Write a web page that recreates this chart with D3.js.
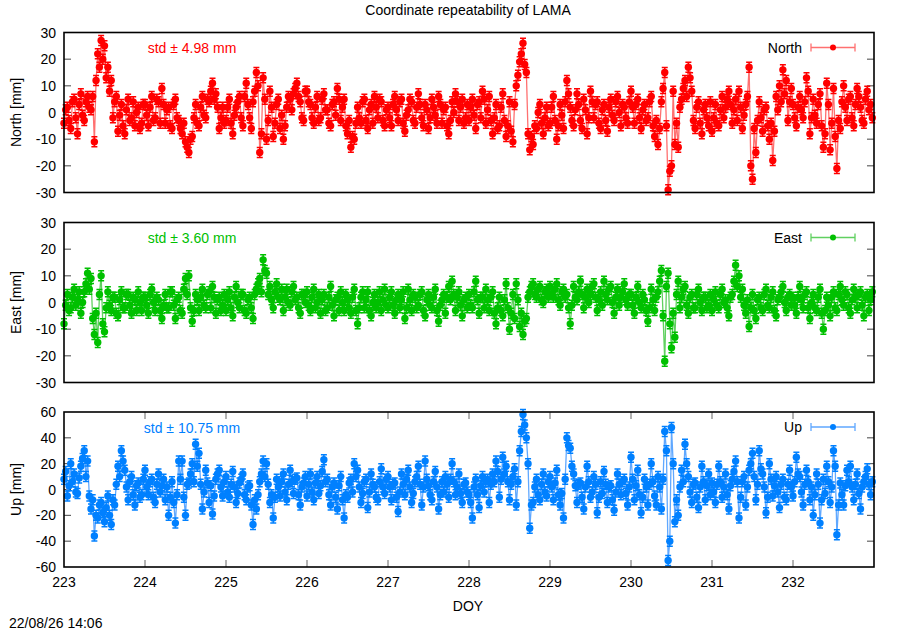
<!DOCTYPE html>
<html lang="en">
<head>
    <meta charset="UTF-8">
    <script src="https://d3js.org/d3.v7.min.js"></script>
    <title>Coordinate repeatability of LAMA</title>
    <style>
        body { margin: 0; background: #fff; }
        text { font-family: "Liberation Sans", Arial, sans-serif; }
    </style>
</head>
<body>
    <div id="chart"></div>

    <script type="text/javascript">
        // 30-min solutions [mm], DOY 223.00 .. 232.98 (one row per day)
        const north = [].concat(
            [-4, 1, 2, -3, -6, 4, 5, -2, -8, 3, 7, -1, -3, 4, 6, 2, 1, 6, -11, 12, 22, 17, 27, 20, 25, 13, 17, 8, 12, -2, 4, 6, -7, -1, 3, -5, -8, 1, 5, -3, -2, 4, -5, 0, 2, -6, -4, 3],
            [3, -1, -5, 2, 6, -3, -2, 5, 4, -4, 9, 3, -4, 1, 2, -5, -6, 3, 5, -2, -3, -6, -8, -4, -11, -13, -15, -10, -9, -2, 3, -4, -5, 2, 6, -1, -2, 5, 4, 8, 11, 5, 7, 2, -6, -2, 2, -4],
            [-3, 2, 5, -4, -8, -1, 2, 4, 6, -2, -5, 6, 11, 3, -2, -6, 4, 8, 15, 10, -15, -8, 13, 5, -10, -3, 8, 2, -9, -4, 3, 5, -6, -1, -10, -5, 2, 6, 5, 1, 7, 9, 11, 6, 4, -2, -3, 8],
            [8, 4, 3, -2, -4, 2, 6, -3, -2, 5, 7, 1, 1, -4, -5, 3, 4, -1, 9, 5, -3, 2, 5, -5, -8, -3, -13, -9, -10, -4, 2, -2, -4, 4, 5, -3, -6, 1, 3, -4, 6, 2, -2, 5, 4, -3, -5, 1],
            [2, -2, -5, 3, 6, 1, -3, 4, 5, -4, -7, -1, 1, 5, 4, -3, -4, 2, 7, 3, -2, -5, 3, 1, -6, -2, 5, 2, -1, -4, 6, 3, -4, 1, 2, -5, -8, -3, 4, 0, 7, 4, -3, 2, 5, -4, -2, 3],
            [-3, 2, 5, -1, -6, 3, 4, -2, 8, 5, -4, 1, 6, -3, -8, -2, 3, -6, -5, 2, 7, -3, -9, -5, 4, -7, -11, 3, 10, 14, 19, 22, 26, 18, 15, -8, -14, -9, -12, -5, -6, 0, 3, -4, -8, -2, 2, -5],
            [-4, 2, 6, -3, -10, -5, 3, -1, -6, 4, 12, 7, 2, -3, -5, 1, 7, 3, -3, -6, 5, 1, -8, -2, 8, 4, -2, 3, 4, -4, -6, 1, 3, -3, -7, 2, 5, -1, -3, 4, 6, 0, -5, 3, 2, -2, -4, 4],
            [8, 2, -4, 3, 5, -2, -6, 1, 3, -3, -2, 4, 6, -5, -9, -3, -12, -6, 4, 9, 15, -5, -29, -22, -20, 8, -12, -4, -13, 2, 5, 9, 12, 6, 17, 13, 8, -3, -6, 2, 4, -4, -8, 1, 3, -2, -5, 4],
            [-7, -2, 3, -4, -5, 1, 6, -2, 2, 5, 8, 3, -4, 1, 5, -3, 8, 2, -6, -1, 3, 6, 17, -20, -25, -6, -15, -3, 4, -2, -7, 1, 2, -5, -10, -4, -18, -7, 6, 1, 10, 4, 16, 7, 12, -3, 4, 9],
            [3, -2, -5, 2, 6, 1, -2, 4, 13, 8, -8, -2, 5, -1, -4, 3, 7, -5, -13, -8, 11, 3, -14, -4, 9, -9, -21, -3, -6, 4, 10, 2, -3, 5, 6, -2, -5, 3, 9, 6, 2, -3, -4, 5, 8, 1, 3, -2]
        );
        const east = [].concat(
            [-8, -1, 3, -3, -2, 2, 5, -1, 1, 4, -4, 0, 4, 7, 11, 5, 9, -6, -12, -4, -15, 3, 10, -8, -11, -2, 4, -1, -3, 2, 2, -4, -5, 1, 4, -2, -2, 3, 3, -1, -4, 2, 1, -3, 4, 0, -3, 2],
            [2, -1, -4, 3, 5, 0, -3, 2, 1, -3, -6, -1, 3, -2, -2, 4, 4, -1, -6, 1, 2, -3, -4, 5, 9, 3, 10, -2, -7, -3, 3, 1, -3, 2, 5, -1, -2, 3, 4, -2, 6, 2, -4, 1, 2, -3, -1, 3],
            [-3, 1, 4, -2, -5, 2, 6, 0, -2, 3, 3, -3, -4, 1, 2, -2, -6, 3, 5, 7, 9, 4, 16, 12, 11, 3, 6, 1, -2, 4, 7, 2, 1, 5, -3, 2, 5, 0, -1, 4, 6, 1, 2, -2, -4, 3, 3, 0],
            [4, -1, -3, 2, 5, -2, 0, 3, -4, 1, 3, -3, -2, 2, 6, -1, -5, 1, 2, -3, 4, 0, -3, 3, 1, -2, -4, 2, 5, -3, -8, -2, 2, 4, -2, 1, 4, -3, -5, 0, 3, -2, 0, 4, -3, 1, 5, -1],
            [-2, 2, 4, -1, -4, 1, 3, -2, 1, 4, -6, -2, 5, 1, -3, 3, 2, -2, -1, 3, 4, -3, -5, 1, 3, -1, -2, 2, 5, -3, -7, -1, 1, 3, -4, 2, 6, 1, 8, 3, -3, 2, 4, -1, -5, 1, 2, -2],
            [3, -1, -2, 4, 8, 1, -4, 2, 2, -2, 5, 1, -3, 2, 4, -4, -8, -2, 2, -3, -5, 1, 7, -2, -10, -4, 3, -6, 7, 1, -9, -4, -12, -7, -6, 2, 4, 6, 7, 3, 2, 5, 6, 1, 0, 4, 5, 2],
            [6, 3, 2, 5, 7, 1, -1, 4, 5, 2, 3, -2, -8, -1, 6, 2, 1, 4, 8, 3, -2, 2, 5, 0, 3, 6, 7, 2, -3, 1, 4, -1, 8, 3, 1, 5, 6, 0, -4, 2, 5, -1, 2, 4, 7, 1, -1, 3],
            [3, -1, -4, 2, 6, 0, -2, 3, 1, -3, -7, -2, 5, 1, -3, 2, 4, 8, 12, -5, -22, 6, 11, -8, -17, -4, -13, 3, 8, -2, 2, 5, 6, -1, -4, 2, 3, -2, -2, 3, 5, 0, -3, 2, 2, -2, -1, 3],
            [-3, 1, 4, -1, -2, 3, 5, 0, 1, -2, -5, 2, 3, 8, 14, 6, 10, 2, 5, -1, -4, 1, -9, -2, 3, -3, -6, 1, 2, -2, -3, 3, 5, -1, -2, 2, 4, -3, -5, 1, 2, 4, 6, 0, -3, 2, 3, -1],
            [2, -1, -4, 2, 6, 1, -2, 3, 4, -2, -6, 0, 3, -2, -3, 2, 5, -4, -10, -3, 2, -1, -5, 2, 4, -2, -3, 3, 6, 1, -1, 4, 3, -2, -4, 1, 5, 2, -2, 3, 4, -1, -5, 2, 3, -3, 1, 4]
        );
        const up = [].concat(
            [8, 14, -5, 3, 20, 6, 12, -2, -3, 9, 18, 24, 30, 10, 22, -5, -15, -8, -36, -20, -22, -12, -10, -18, -25, -14, -5, -20, -27, -8, -12, 4, 18, 10, 30, 22, 15, 2, -8, 6, 10, -4, -12, 3, 5, -6, -4, 8],
            [15, 2, -4, 6, 8, -6, -10, 4, 12, -2, 3, 8, -8, 2, -20, -6, 6, -10, -26, -4, 22, 8, 22, -6, -20, 4, 5, 12, 20, 6, 35, 18, 28, 4, -15, -2, 15, 5, -10, 3, -19, -5, 8, 12, 15, 2, -5, 6],
            [10, -2, -6, 4, 14, 2, -10, -3, 5, 8, 12, -4, -8, 2, 3, -12, -27, -8, -15, -4, 6, 12, 22, 10, 20, 4, -10, -4, -22, -6, 8, 2, -5, 6, 12, -2, -8, 4, 15, 6, -3, 8, 9, -4, -12, 2, 5, 10],
            [-5, 4, 12, -2, -8, 5, 10, -3, 3, 14, 23, 6, 8, -4, -12, 2, 5, -6, -15, 3, 10, -8, -22, -4, -6, 5, 8, -2, 20, 10, 15, 2, -10, -3, 6, 8, -14, -2, 12, 4, 2, -6, -8, 6, 16, 2, -3, 8],
            [10, 2, -8, 4, 5, -6, -17, -2, 12, 4, -4, 8, 15, 2, -10, -3, 6, 10, 18, 4, -12, 2, 22, 8, 3, -4, -8, 6, 14, 2, -15, -4, 6, -2, 10, 4, -6, 8, 20, 6, -4, 2, 12, -3, -10, 4, 5, -2],
            [-4, -10, -22, 2, 8, -4, -14, 3, 10, -2, 6, 8, -10, 4, 12, 6, 22, 14, -6, 8, 25, 12, 18, 6, -8, 4, 10, 16, -12, 6, 30, 45, 58, 50, 40, 20, -30, -12, -10, 2, 8, -4, -8, 4, 12, -2, -5, 6],
            [10, 2, -8, 5, 15, -4, -12, -3, -22, 8, 40, 34, 32, 18, 12, 3, -10, 4, 5, -6, -15, 2, 18, 6, -6, -2, 10, 4, -18, -6, 6, -3, 14, 4, -10, 2, 3, -8, -16, -2, 12, 4, -4, 6, 8, -3, -12, 2],
            [25, 8, -8, 3, 15, -4, -18, -6, 8, 2, -12, 4, 20, 6, -5, -12, 10, 2, -15, 8, 45, 30, -55, -40, 48, 20, -25, -8, -20, 2, 15, 6, 35, 20, 10, -2, -10, 4, 5, -6, -14, 2, 18, 6, -8, 3, 12, -4],
            [5, -2, -10, 4, 18, 6, -6, 2, 12, -4, -15, 3, 8, 14, 22, 6, -22, -6, 6, 10, -12, 2, 15, 20, 28, 10, -8, 4, 30, 16, 12, 2, -18, -6, 20, 8, -5, 3, 10, -2, -14, 4, 8, -6, -8, 4, 15, 2],
            [-5, 6, 25, 12, 10, -2, -12, 4, 15, 6, -8, 2, -20, -4, 12, 4, -26, -8, 8, -3, 18, 6, -10, 2, 30, 18, -35, -12, 5, -4, -12, 3, 15, 6, 18, 2, -8, 4, 12, -3, -15, 2, 6, 10, 16, 4, -4, 6]
        );
        const doy = north.map((d, i) => 223 + i / 48);

        const components = ["North", "East", "Up"];
        const stdText = ["std \u00b1 4.98 mm", "std \u00b1 3.60 mm", "std \u00b1 10.75 mm"];
        const yDomains = [[-30, 30], [-30, 30], [-60, 60]];
        const yTickValues = [d3.range(-30, 31, 10), d3.range(-30, 31, 10), d3.range(-60, 61, 20)];
        const xTickValues = d3.range(223, 233);
        const colors = ["#ff0000", "#00c000", "#0080ff"];
        const lineColors = ["#ff7070", "#60d060", "#60a8ff"];

        const width = 900;
        const height = 630;
        const left = 64, right = 874;
        const panels = [[32.5, 192.5], [222.5, 382.5], [412, 567]];
        const series = [north, east, up];

        const svg = d3.select("#chart")
            .append("svg")
            .attr("width", width)
            .attr("height", height);

        const x = d3.scaleLinear().domain([223, 233]).range([left, right]);

        svg.append("text")
            .attr("x", 468)
            .attr("y", 15)
            .attr("text-anchor", "middle")
            .style("font-size", "14px")
            .text("Coordinate repeatability of LAMA");

        components.forEach((name, k) => {
            const [top, bottom] = panels[k];
            const y = d3.scaleLinear().domain(yDomains[k]).range([bottom, top]);
            const g = svg.append("g");
            const values = series[k];

            // y ticks, inside, mirrored on the right
            yTickValues[k].forEach(t => {
                if (t === yDomains[k][0] || t === yDomains[k][1]) return;
                g.append("line").attr("x1", left).attr("x2", left + 7)
                    .attr("y1", y(t)).attr("y2", y(t)).attr("stroke", "#444");
                g.append("line").attr("x1", right - 7).attr("x2", right)
                    .attr("y1", y(t)).attr("y2", y(t)).attr("stroke", "#444");
            });
            yTickValues[k].forEach(t => {
                g.append("text")
                    .attr("x", 56)
                    .attr("y", y(t) + 5)
                    .attr("text-anchor", "end")
                    .style("font-size", "14px")
                    .text(t);
            });

            g.append("text")
                .attr("transform", `translate(21, ${(top + bottom) / 2}) rotate(-90)`)
                .attr("text-anchor", "middle")
                .style("font-size", "14px")
                .text(`${name} [mm]`);

            // x ticks only on the bottom panel
            if (k === 2) {
                xTickValues.forEach(t => {
                    if (t === 223) return;
                    g.append("line").attr("x1", x(t)).attr("x2", x(t))
                        .attr("y1", bottom).attr("y2", bottom - 7).attr("stroke", "#666");
                    g.append("line").attr("x1", x(t)).attr("x2", x(t))
                        .attr("y1", top).attr("y2", top + 7).attr("stroke", "#666");
                });
                xTickValues.forEach(t => {
                    g.append("text")
                        .attr("x", x(t))
                        .attr("y", bottom + 20)
                        .attr("text-anchor", "middle")
                        .style("font-size", "14px")
                        .text(t);
                });
            }

            const pts = values.map((v, i) => [doy[i], v]);

            const line = d3.line()
                .x(d => x(d[0]))
                .y(d => y(d[1]));

            g.append("path")
                .datum(pts)
                .attr("d", line)
                .attr("fill", "none")
                .attr("stroke", lineColors[k])
                .attr("stroke-width", 1.3);

            // error bars
            g.selectAll("path.err")
                .data(pts)
                .enter()
                .append("path")
                .attr("class", "err")
                .attr("d", d => {
                    const px = x(d[0]), py = y(d[1]);
                    return `M${px},${py - 5}V${py + 5}M${px - 3},${py - 5}H${px + 3}M${px - 3},${py + 5}H${px + 3}`;
                })
                .attr("stroke", colors[k])
                .attr("stroke-width", 1.5)
                .attr("fill", "none");

            g.selectAll("circle.pt")
                .data(pts)
                .enter()
                .append("circle")
                .attr("class", "pt")
                .attr("cx", d => x(d[0]))
                .attr("cy", d => y(d[1]))
                .attr("r", 3.7)
                .attr("fill", colors[k]);

            // frame
            g.append("rect")
                .attr("x", left)
                .attr("y", top)
                .attr("width", right - left)
                .attr("height", bottom - top)
                .attr("fill", "none")
                .attr("stroke", "#000")
                .attr("stroke-width", 1.6);

            g.append("text")
                .attr("x", 192)
                .attr("y", top + 20.5)
                .attr("text-anchor", "middle")
                .attr("fill", colors[k])
                .style("font-size", "14px")
                .text(stdText[k]);

            // legend
            const ly = top + 15;
            g.append("text")
                .attr("x", 802)
                .attr("y", ly + 5)
                .attr("text-anchor", "end")
                .style("font-size", "14px")
                .text(name);
            g.append("path")
                .attr("d", `M811,${ly}H855M811,${ly - 4}V${ly + 4}M855,${ly - 4}V${ly + 4}`)
                .attr("stroke", lineColors[k])
                .attr("stroke-width", 1.3)
                .attr("fill", "none");
            g.append("circle")
                .attr("cx", 833)
                .attr("cy", ly)
                .attr("r", 3)
                .attr("fill", colors[k]);
        });

        svg.append("text")
            .attr("x", 468)
            .attr("y", 611)
            .attr("text-anchor", "middle")
            .style("font-size", "14px")
            .text("DOY");

        svg.append("text")
            .attr("x", 9)
            .attr("y", 628)
            .style("font-size", "14px")
            .text("22/08/26 14:06");
    </script>
</body>
</html>
